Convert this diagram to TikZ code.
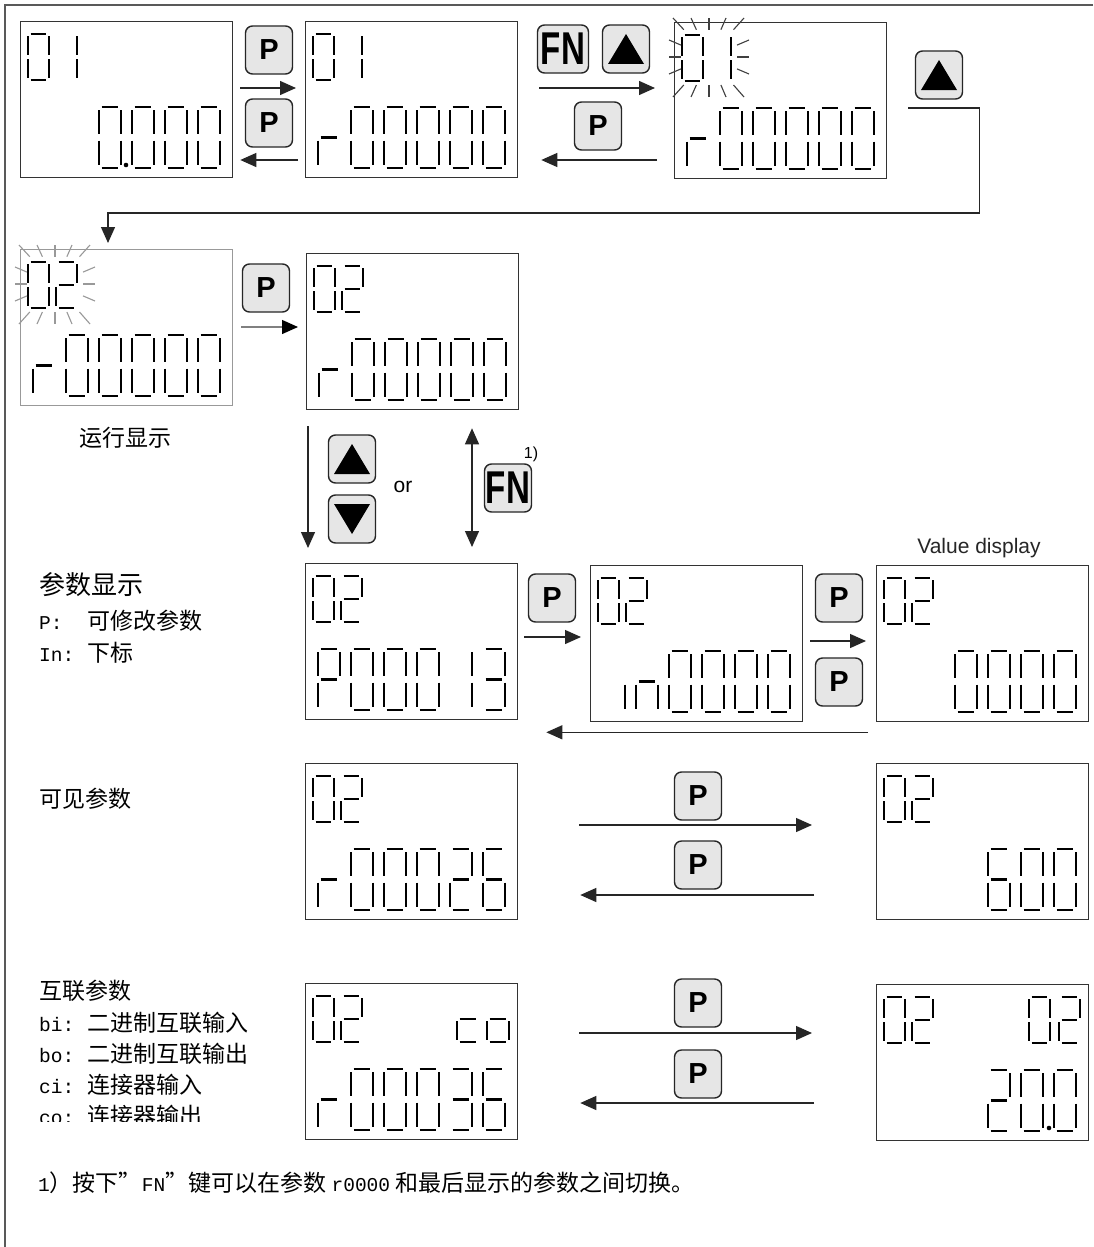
\documentclass[tikz,border=0pt]{standalone}
\usepackage{fontspec}
\usepackage{graphicx}
\setmainfont{Liberation Sans}
\newfontfamily\cjk{Noto Sans CJK SC}
\newfontfamily\latn[Scale=0.85]{Liberation Mono}
\usetikzlibrary{arrows.meta}
\definecolor{keygray}{RGB}{230,230,230}
\tikzstyle{lcd} = [draw=black!80,line width=1.3pt,minimum width=212pt,minimum height=156pt,anchor=north west,inner sep=0pt]
\tikzstyle{key} = [draw=black!85,fill=keygray,rounded corners=7pt,line width=1.4pt,minimum width=47pt,minimum height=48pt,inner sep=0pt,font=\bfseries\fontsize{29}{29}\selectfont]
\tikzstyle{seg} = [line width=2.8pt]
\tikzstyle{ray} = [line width=1.1pt]
\tikzstyle{arr} = [-{Triangle[length=16pt,width=14pt]},line width=1.3pt,draw=black!85]
\tikzstyle{lbl} = [anchor=west,inner sep=0pt,font=\cjk\fontsize{23}{28}\selectfont]
% seven segments of one cell, cell is 1 x 1
\def\sga{(.12,0)--(.88,0)}
\def\sgb{(1,.05)--(1,.45)}
\def\sgc{(1,.55)--(1,.95)}
\def\sgd{(.12,1)--(.88,1)}
\def\sge{(0,.55)--(0,.95)}
\def\sgf{(0,.05)--(0,.45)}
\def\sgg{(.12,.5)--(.88,.5)}
\def\segs#1{\segsnext#1\relax}
\def\segsnext#1{\ifx#1\relax\else\draw[seg]\csname sg#1\endcsname;\expandafter\segsnext\fi}
\newcommand{\lcdchar}[5]{\begin{scope}[shift={(#1,#2)},xscale=#3,yscale=#4]\segs{#5}\end{scope}}
\newcommand{\toprow}[2]{\lcdchar{8}{13}{21}{46}{#1}\lcdchar{36}{13}{21}{46}{#2}}
\newcommand{\botrow}[6]{\lcdchar{13}{86}{22}{61}{#1}\lcdchar{46}{86}{22}{61}{#2}\lcdchar{79}{86}{22}{61}{#3}%
  \lcdchar{112}{86}{22}{61}{#4}\lcdchar{145}{86}{22}{61}{#5}\lcdchar{178}{86}{22}{61}{#6}}
\newcommand{\blink}[2]{\begin{scope}[shift={(#1.north west)},shift={(35,35)}]
  \foreach \rx/\ry in {-36/-39,-18/-39,0/-39,17/-39,35/-39,-36/40,-18/40,0/40,17/40,35/40,-40/-17,-40/0,-40/17,40/-17,40/0,40/17}
    \draw[ray,#2] (.7*\rx,.7*\ry) -- (\rx,\ry);
  \end{scope}}
\newcommand{\uptri}[1]{\fill ([yshift=15pt]#1.center) -- ([xshift=18pt,yshift=-15pt]#1.center) -- ([xshift=-18pt,yshift=-15pt]#1.center) -- cycle;}
\newcommand{\dntri}[1]{\fill ([yshift=-15pt]#1.center) -- ([xshift=18pt,yshift=15pt]#1.center) -- ([xshift=-18pt,yshift=15pt]#1.center) -- cycle;}
\newcommand{\fnkey}{\scalebox{0.72}[1]{\fontsize{46}{46}\selectfont FN}}

\begin{document}
\begin{tikzpicture}[x=1pt,y=-1pt]
\fill[white] (0,0) rectangle (1093,1247);
\useasboundingbox (0,0) rectangle (1093,1247);
\draw[black!65,line width=2pt] (1093,5) -- (5,5) -- (5,1247);

% displays
\node[lcd] (d1) at (20,21) {};
\begin{scope}[shift={(d1.north west)}]
  \toprow{abcdef}{bc} \botrow{}{}{abcdef}{abcdef}{abcdef}{abcdef}
  \fill (106,144) circle (2.3pt);
\end{scope}
\node[lcd] (d2) at (305,21) {};
\begin{scope}[shift={(d2.north west)}]
  \toprow{abcdef}{bc} \botrow{eg}{abcdef}{abcdef}{abcdef}{abcdef}{abcdef}
\end{scope}
\node[lcd] (d3) at (674,22) {};
\begin{scope}[shift={(d3.north west)}]
  \toprow{abcdef}{bc} \botrow{eg}{abcdef}{abcdef}{abcdef}{abcdef}{abcdef}
\end{scope}
\blink{d3}{black!75}
\node[lcd,draw=black!40] (d4) at (20,249) {};
\begin{scope}[shift={(d4.north west)}]
  \toprow{abcdef}{abdeg} \botrow{eg}{abcdef}{abcdef}{abcdef}{abcdef}{abcdef}
\end{scope}
\blink{d4}{black!40}
\node[lcd] (d5) at (306,253) {};
\begin{scope}[shift={(d5.north west)}]
  \toprow{abcdef}{abdeg} \botrow{eg}{abcdef}{abcdef}{abcdef}{abcdef}{abcdef}
\end{scope}
\node[lcd] (d6) at (305,563) {};
\begin{scope}[shift={(d6.north west)}]
  \toprow{abcdef}{abdeg} \botrow{abefg}{abcdef}{abcdef}{abcdef}{bc}{abcdg}
\end{scope}
\node[lcd] (d7) at (590,565) {};
\begin{scope}[shift={(d7.north west)}]
  \toprow{abcdef}{abdeg} \botrow{c}{ceg}{abcdef}{abcdef}{abcdef}{abcdef}
\end{scope}
\node[lcd] (d8) at (876,565) {};
\begin{scope}[shift={(d8.north west)}]
  \toprow{abcdef}{abdeg} \botrow{}{}{abcdef}{abcdef}{abcdef}{abcdef}
\end{scope}
\node[lcd] (d9) at (305,763) {};
\begin{scope}[shift={(d9.north west)}]
  \toprow{abcdef}{abdeg} \botrow{eg}{abcdef}{abcdef}{abcdef}{abdeg}{acdefg}
\end{scope}
\node[lcd] (d10) at (876,763) {};
\begin{scope}[shift={(d10.north west)}]
  \toprow{abcdef}{abdeg} \botrow{}{}{}{acdefg}{abcdef}{abcdef}
\end{scope}
\node[lcd] (d11) at (305,983) {};
\begin{scope}[shift={(d11.north west)}]
  \toprow{abcdef}{abdeg} \botrow{eg}{abcdef}{abcdef}{abcdef}{abcdg}{acdefg}
  \lcdchar{152}{13}{22}{46}{deg}\lcdchar{182}{13}{22}{46}{cdeg}
\end{scope}
\node[lcd] (d12) at (876,984) {};
\begin{scope}[shift={(d12.north west)}]
  \toprow{abcdef}{abdeg} \botrow{}{}{}{abdeg}{abcdef}{abcdef}
  \lcdchar{153}{13}{21}{46}{abcdef}\lcdchar{183}{13}{21}{46}{abdeg}
  \fill (173,144) circle (2.3pt);
\end{scope}

% keys
\node[key] (k1) at (269,50) {P};
\node[key] (k2) at (269,123) {P};
\node[key,minimum width=51pt] (k3) at (563,49) {\fnkey};
\node[key] (k4) at (626,49) {}; \uptri{k4}
\node[key] (k5) at (598,126) {P};
\node[key] (k6) at (939,75) {}; \uptri{k6}
\node[key] (k7) at (266,288) {P};
\node[key] (k8) at (352,459) {}; \uptri{k8}
\node[key] (k9) at (352,519) {}; \dntri{k9}
\node[key] (k10) at (508,488) {\fnkey};
\node[key] (k11) at (552,598) {P};
\node[key] (k12) at (839,598) {P};
\node[key] (k13) at (839,682) {P};
\node[key] (k14) at (698,796) {P};
\node[key] (k15) at (698,865) {P};
\node[key] (k16) at (698,1003) {P};
\node[key] (k17) at (698,1074) {P};

% arrows
\draw[arr] ([xshift=7pt,yshift=-67pt]d1.north east) -- ([xshift=-9pt,yshift=-67pt]d2.north west);
\draw[arr] ([xshift=-7pt,yshift=-139pt]d2.north west) -- ([xshift=7pt,yshift=-139pt]d1.north east);
\draw[arr] ([xshift=21pt,yshift=-67pt]d2.north east) -- ([xshift=-19pt,yshift=-66pt]d3.north west);
\draw[arr] ([xshift=-17pt,yshift=-138pt]d3.north west) -- ([xshift=23pt,yshift=-139pt]d2.north east);
\draw[arr] ([xshift=21pt,yshift=-86pt]d3.north east) -| ([xshift=92pt,yshift=-191pt]d3.north east) -| ([xshift=88pt,yshift=6pt]d4.north west);
\draw[arr,draw=black!50,-{Triangle[length=16pt,width=14pt,black]}] ([xshift=8pt,yshift=-78pt]d4.north east) -- ([xshift=-8pt,yshift=-74pt]d5.north west);
\draw[arr] ([xshift=2pt,yshift=-16pt]d5.south west) -- ([xshift=3pt,yshift=15pt]d6.north west);
\draw[arr,{Triangle[length=16pt,width=14pt]}-{Triangle[length=16pt,width=14pt]}] ([xshift=166pt,yshift=-18pt]d5.south west) -- ([xshift=167pt,yshift=16pt]d6.north west);
\draw[arr] ([xshift=6pt,yshift=-74pt]d6.north east) -- ([xshift=-9pt,yshift=-72pt]d7.north west);
\draw[arr] ([xshift=7pt,yshift=-76pt]d7.north east) -- ([xshift=-10pt,yshift=-76pt]d8.north west);
\draw[arr] ([xshift=-8pt,yshift=-10pt]d8.south west) -- ([xshift=28pt,yshift=-12pt]d6.south east);
\draw[arr] ([xshift=61pt,yshift=-62pt]d9.north east) -- ([xshift=-64pt,yshift=-62pt]d10.north west);
\draw[arr] ([xshift=-62pt,yshift=-132pt]d10.north west) -- ([xshift=62pt,yshift=-132pt]d9.north east);
\draw[arr] ([xshift=61pt,yshift=-50pt]d11.north east) -- ([xshift=-64pt,yshift=-49pt]d12.north west);
\draw[arr] ([xshift=-62pt,yshift=-119pt]d12.north west) -- ([xshift=62pt,yshift=-120pt]d11.north east);

% texts
\node[font=\fontsize{21}{21}\selectfont] (or) at (403,487) {or};
\node[font=\fontsize{16}{16}\selectfont] (fnote) at (531,454) {1)};
\node[font=\fontsize{21}{21}\selectfont,text=black!85] (val) at (979,548) {Value display};
\node[lbl,anchor=center] (run) at (125,438) {运行显示};
\node[lbl,font=\cjk\fontsize{26}{30}\selectfont] (par) at (39,585) {参数显示};
\node[lbl] (parp) at (39,621) {\makebox[48pt][l]{\latn P:}可修改参数};
\node[lbl] (pari) at (39,653) {\makebox[48pt][l]{\latn In:}下标};
\node[lbl] (vis) at (39,799) {可见参数};
\node[lbl] (bico) at (39,991) {互联参数};
\node[lbl] (bi) at (39,1023) {\makebox[48pt][l]{\latn bi:}二进制互联输入};
\node[lbl] (bo) at (39,1054) {\makebox[48pt][l]{\latn bo:}二进制互联输出};
\node[lbl] (ci) at (39,1085) {\makebox[48pt][l]{\latn ci:}连接器输入};
\begin{scope}
  \clip (30,1100) rectangle (300,1121);
  \node[lbl] (co) at (39,1116) {\makebox[48pt][l]{\latn co:}连接器输出};
\end{scope}
\node[lbl] (foot) at (38,1183) {{\latn 1}）按下”{\latn FN}”键可以在参数 {\latn r0000} 和最后显示的参数之间切换。};
\end{tikzpicture}
\end{document}
